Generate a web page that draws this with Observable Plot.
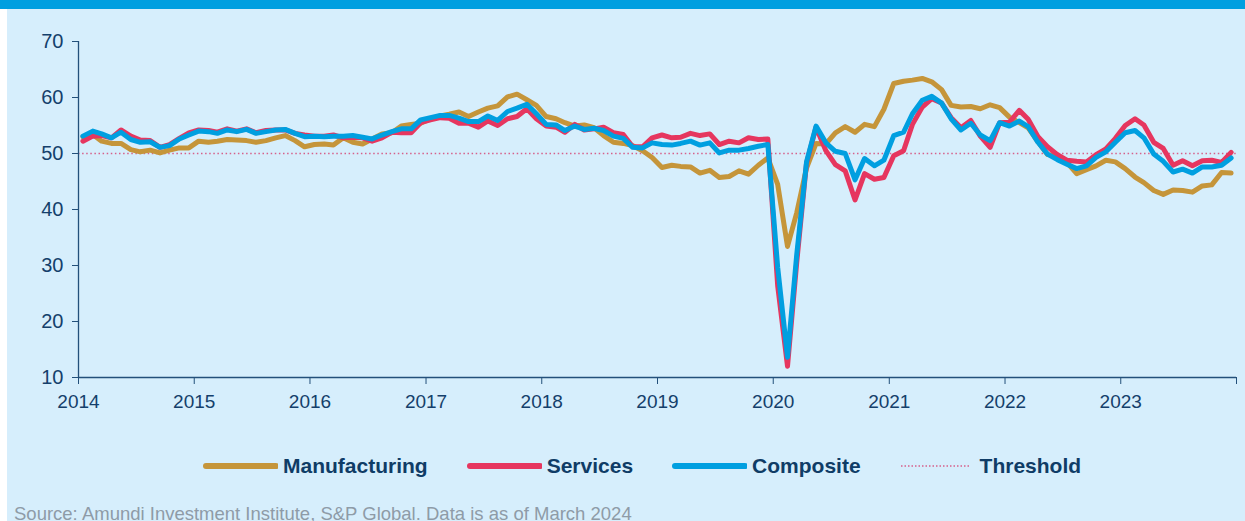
<!DOCTYPE html>
<html>
<head>
<meta charset="utf-8">
<script src="https://cdn.jsdelivr.net/npm/d3@7"></script>
<script src="https://cdn.jsdelivr.net/npm/@observablehq/plot@0.6"></script>
<style>
  html, body { margin: 0; padding: 0; background: #ffffff; }
  body { width: 1245px; height: 521px; overflow: hidden; position: relative; font-family: "Liberation Sans", Arial, sans-serif; }
  #bar { position: absolute; left: 0; top: 0; width: 1245px; height: 9px; background: #009fe0; }
  #panel { position: absolute; left: 7px; top: 9px; width: 1238px; height: 512px; background: #d6eefc; overflow: hidden; }
  #chart { position: absolute; left: 0; top: 0; }
  #legend { position: absolute; left: 195px; top: 442px; display: flex; align-items: center; height: 30px; }
  .item { display: flex; align-items: center; margin-right: 38px; }
  .item svg { margin-right: 5px; display: block; }
  .lab { font-weight: bold; font-size: 21px; color: #0f3c66; white-space: nowrap; }
  #source { position: absolute; left: 7px; top: 495px; font-size: 18.5px; line-height: 20px; color: #8e9ba7; white-space: nowrap; }
</style>
</head>
<body>
<div id="bar"></div>
<div id="panel">
  <div id="chart"></div>
  <div id="legend"></div>
  <div id="source">Source: Amundi Investment Institute, S&amp;P Global. Data is as of March 2024</div>
</div>
<script>
// Monthly readings, plotted at the chart's month positions from Jan 2014 to Dec 2023
const firstMonth = "2014-01";
const manufacturing = [
  53.0, 53.4, 52.2, 51.8, 51.8, 50.7, 50.3, 50.6, 50.1, 50.6,
  51.0, 51.0, 52.2, 52.0, 52.2, 52.5, 52.4, 52.3, 52.0, 52.3, 52.8, 53.2,
  52.3, 51.2, 51.6, 51.7, 51.5, 52.8, 52.0, 51.7, 52.6, 53.5, 53.7, 54.9,
  55.2, 55.4, 56.2, 56.7, 57.0, 57.4, 56.6, 57.4, 58.1, 58.5, 60.1, 60.6,
  59.6, 58.6, 56.6, 56.2, 55.5, 54.9, 55.1, 54.6, 53.2, 52.0, 51.8, 51.4,
  50.5, 49.3, 47.5, 47.9, 47.7, 47.6, 46.5, 47.0, 45.7, 45.9, 46.9, 46.3,
  47.9, 49.2, 44.5, 33.4, 39.4, 47.4, 51.8, 51.7, 53.7, 54.8, 53.8, 55.2,
  54.8, 57.9, 62.5, 62.9, 63.1, 63.4, 62.8, 61.4, 58.6, 58.3, 58.4, 58.0,
  58.7, 58.2, 56.5, 55.5, 54.6, 52.1, 49.8, 49.6, 48.4, 46.4, 47.1, 47.8,
  48.8, 48.5, 47.3, 45.8, 44.8, 43.4, 42.7, 43.5, 43.4, 43.1, 44.2, 44.4,
  46.6, 46.5
];
const services = [
  52.2, 53.1, 53.2, 52.8, 54.2, 53.1, 52.4, 52.3, 51.1, 51.6,
  52.7, 53.7, 54.2, 54.1, 53.8, 54.4, 54.0, 54.4, 53.7, 54.1, 54.2, 54.2,
  53.6, 53.3, 53.1, 53.1, 53.3, 52.8, 52.9, 52.8, 52.2, 52.8, 53.8, 53.7,
  53.7, 55.5, 56.0, 56.4, 56.3, 55.4, 55.4, 54.7, 55.8, 55.0, 56.2, 56.6,
  58.0, 56.2, 54.9, 54.7, 53.8, 55.2, 54.2, 54.4, 54.7, 53.7, 53.4, 51.2,
  51.2, 52.8, 53.3, 52.8, 52.9, 53.6, 53.2, 53.5, 51.6, 52.2, 51.9, 52.8,
  52.5, 52.6, 26.4, 12.0, 30.5, 48.3, 54.7, 50.5, 48.0, 46.9, 41.7, 46.4,
  45.4, 45.7, 49.6, 50.5, 55.2, 58.3, 59.8, 59.0, 56.4, 54.6, 55.9, 53.1,
  51.1, 55.5, 55.6, 57.7, 56.1, 53.0, 51.2, 49.8, 48.8, 48.6, 48.5, 49.8,
  50.8, 52.7, 55.0, 56.2, 55.1, 52.0, 50.9, 47.9, 48.7, 47.8, 48.7, 48.8,
  48.4, 50.2
];
const composite = [
  53.1, 54.0, 53.5, 52.8, 53.8, 52.5, 52.0, 52.1, 51.1, 51.4,
  52.6, 53.3, 54.0, 53.9, 53.6, 54.2, 53.9, 54.3, 53.6, 53.9, 54.2, 54.3,
  53.6, 53.0, 53.1, 53.0, 53.1, 53.1, 53.2, 52.9, 52.6, 53.3, 53.9, 54.4,
  54.4, 56.0, 56.4, 56.8, 56.8, 56.3, 55.7, 55.7, 56.7, 55.9, 57.5, 58.1,
  58.8, 57.1, 55.2, 55.1, 54.1, 54.9, 54.3, 54.5, 54.1, 53.1, 52.7, 51.1,
  51.0, 51.9, 51.6, 51.5, 51.8, 52.2, 51.5, 51.9, 50.1, 50.6, 50.6, 50.9,
  51.3, 51.6, 29.7, 13.6, 31.9, 48.5, 54.9, 51.9, 50.4, 50.0, 45.3, 49.1,
  47.8, 48.8, 53.2, 53.8, 57.1, 59.5, 60.2, 59.0, 56.2, 54.2, 55.4, 53.3,
  52.3, 55.5, 54.9, 55.8, 54.8, 52.0, 49.9, 48.9, 48.1, 47.3, 47.8, 49.3,
  50.3, 52.0, 53.7, 54.1, 52.8, 49.9, 48.6, 46.7, 47.2, 46.5, 47.6, 47.6,
  47.9, 49.2
];
const threshold = 50;
const seriesNames = ["Manufacturing", "Services", "Composite"];
const seriesColors = ["#c5953a", "#e6365f", "#009fe0"];
const thresholdName = "Threshold";
const thresholdColor = "#d6608a";
const yTicks = [10, 20, 30, 40, 50, 60, 70];
const xYears = [2014, 2015, 2016, 2017, 2018, 2019, 2020, 2021, 2022, 2023, 2024];
const labeledYears = [2014, 2015, 2016, 2017, 2018, 2019, 2020, 2021, 2022, 2023];

const [fy, fm] = firstMonth.split("-").map(Number);
const monthDate = i => new Date(Date.UTC(fy, fm - 1 + i, 15));
const seriesValues = [manufacturing, services, composite];
const rows = seriesNames.map((name, s) =>
  seriesValues[s].map((v, i) => ({series: name, date: monthDate(i), value: v})));
const yearDates = xYears.map(y => new Date(Date.UTC(y, 0, 1)));
const xDomain = [yearDates[0], yearDates[yearDates.length - 1]];

const axisColor = "#23507a";
const textColor = "#143f6b";

const chart = Plot.plot({
  width: 1238,
  height: 410,
  marginLeft: 71,
  marginRight: 9,
  marginTop: 32,
  marginBottom: 42,
  style: {background: "transparent", fontFamily: "'Liberation Sans', Arial, sans-serif", fontSize: "19px", color: textColor, overflow: "visible"},
  x: {type: "utc", domain: xDomain},
  y: {domain: [yTicks[0], yTicks[yTicks.length - 1]]},
  marks: [
    Plot.ruleY([threshold], {stroke: thresholdColor, strokeWidth: 1.3, strokeDasharray: "1.5,2.6"}),
    ...rows.map((r, s) => Plot.line(r, {x: "date", y: "value", stroke: seriesColors[s], strokeWidth: 5, strokeLinejoin: "round", strokeLinecap: "round"})),
    Plot.ruleX([xDomain[0]], {stroke: axisColor, strokeWidth: 1.3}),
    Plot.ruleY([yTicks[0]], {stroke: axisColor, strokeWidth: 1.3}),
    Plot.axisY({ticks: yTicks, tickSize: 6, tickPadding: 9, label: null, stroke: axisColor, fill: textColor, fontSize: 20}),
    Plot.axisX({ticks: yearDates, tickSize: 7, tickPadding: 10, label: null, stroke: axisColor, fill: textColor,
      tickFormat: d => labeledYears.includes(d.getUTCFullYear()) ? String(d.getUTCFullYear()) : ""})
  ]
});
document.getElementById("chart").appendChild(chart);

// Legend
const legend = document.getElementById("legend");
const items = seriesNames.map((n, i) => ({name: n, color: seriesColors[i], dotted: false}))
  .concat([{name: thresholdName, color: thresholdColor, dotted: true}]);
for (const it of items) {
  const div = document.createElement("div");
  div.className = "item";
  const ns = "http://www.w3.org/2000/svg";
  const sw = document.createElementNS(ns, "svg");
  sw.setAttribute("width", "76"); sw.setAttribute("height", "10");
  const ln = document.createElementNS(ns, "line");
  ln.setAttribute("x1", it.dotted ? "2" : "4"); ln.setAttribute("x2", it.dotted ? "70" : "74");
  ln.setAttribute("y1", "5"); ln.setAttribute("y2", "5");
  ln.setAttribute("stroke", it.color);
  if (it.dotted) { ln.setAttribute("stroke-width", "1.3"); ln.setAttribute("stroke-dasharray", "1.5,2"); }
  else { ln.setAttribute("stroke-width", "6"); ln.setAttribute("stroke-linecap", "round"); }
  sw.appendChild(ln);
  const lab = document.createElement("span");
  lab.className = "lab"; lab.textContent = it.name;
  div.appendChild(sw); div.appendChild(lab);
  legend.appendChild(div);
}
</script>
</body>
</html>
